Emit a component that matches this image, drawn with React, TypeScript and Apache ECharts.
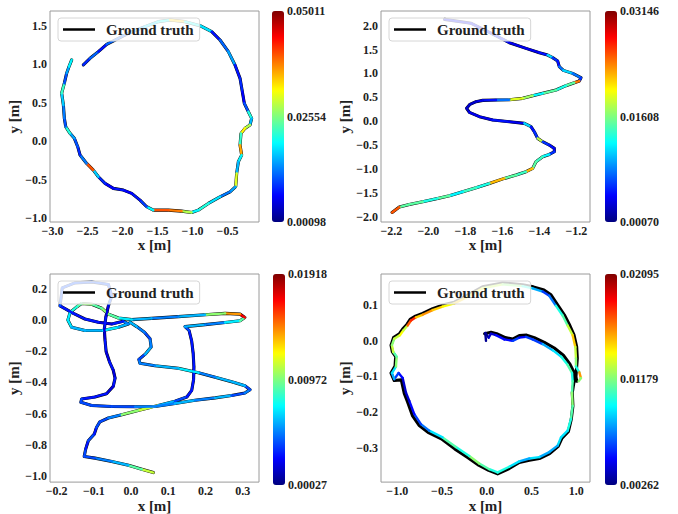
import React, { useEffect, useRef } from 'react';
import * as echarts from 'echarts';

// ---------- Panel 1 (top left) ----------
const est1: [number, number][] = [
  [-2.560, 0.990], [-2.464, 1.076], [-2.345, 1.163], [-2.226, 1.258], [-1.917, 1.401],
  [-1.679, 1.487], [-1.488, 1.552], [-1.321, 1.574], [-1.107, 1.552], [-0.893, 1.500],
  [-0.726, 1.422], [-0.607, 1.314], [-0.488, 1.163], [-0.393, 0.989], [-0.321, 0.816],
  [-0.288, 0.643], [-0.260, 0.492], [-0.202, 0.383], [-0.155, 0.297], [-0.179, 0.210],
  [-0.250, 0.167], [-0.307, 0.102], [-0.321, -0.050], [-0.298, -0.180], [-0.345, -0.266],
  [-0.369, -0.417], [-0.383, -0.590], [-0.464, -0.656], [-0.607, -0.721], [-0.774, -0.807],
  [-0.917, -0.894], [-1.012, -0.924], [-1.155, -0.907], [-1.345, -0.894], [-1.560, -0.894],
  [-1.655, -0.850], [-1.750, -0.764], [-1.869, -0.677], [-1.988, -0.634], [-2.131, -0.612],
  [-2.250, -0.547], [-2.345, -0.461], [-2.417, -0.374], [-2.512, -0.288], [-2.607, -0.179],
  [-2.640, -0.071], [-2.688, 0.038], [-2.750, 0.103], [-2.812, 0.190], [-2.831, 0.298],
  [-2.845, 0.471], [-2.869, 0.623], [-2.831, 0.753], [-2.798, 0.883], [-2.764, 0.969],
  [-2.726, 1.056],
];
const err1: number[] = [
  0.009, 0.012, 0.008, 0.012, 0.015, 0.018, 0.020, 0.034, 0.020, 0.018,
  0.008, 0.012, 0.015, 0.008, 0.009, 0.007, 0.011, 0.021, 0.016, 0.028,
  0.032, 0.022, 0.036, 0.019, 0.016, 0.030, 0.015, 0.013, 0.018, 0.021,
  0.019, 0.028, 0.038, 0.040, 0.019, 0.010, 0.008, 0.007, 0.008, 0.007,
  0.009, 0.017, 0.040, 0.013, 0.009, 0.011, 0.015, 0.021, 0.011, 0.013,
  0.017, 0.022, 0.011, 0.015, 0.019, 0.012,
];
const gt1 = est1;
const xTicks1 = [-3.0, -2.5, -2.0, -1.5, -1.0, -0.5];
const yTicks1 = [-1.0, -0.5, 0.0, 0.5, 1.0, 1.5];
const cbTicks1 = [0.00098, 0.02554, 0.05011];

// ---------- Panel 2 (top right) ----------
const est2: [number, number][] = [
  [-1.912, 2.133], [-1.768, 2.050], [-1.659, 1.840], [-1.562, 1.645], [-1.472, 1.526],
  [-1.400, 1.435], [-1.355, 1.386], [-1.328, 1.331], [-1.301, 1.261], [-1.292, 1.142],
  [-1.270, 1.065], [-1.220, 1.002], [-1.175, 0.911], [-1.184, 0.842], [-1.211, 0.807],
  [-1.256, 0.744], [-1.310, 0.653], [-1.382, 0.584], [-1.436, 0.535], [-1.490, 0.479],
  [-1.562, 0.451], [-1.634, 0.444], [-1.706, 0.437], [-1.742, 0.409], [-1.775, 0.353],
  [-1.793, 0.270], [-1.778, 0.186], [-1.724, 0.095], [-1.652, 0.025], [-1.562, -0.010],
  [-1.481, -0.045], [-1.445, -0.115], [-1.427, -0.220], [-1.409, -0.359], [-1.382, -0.429],
  [-1.346, -0.499], [-1.319, -0.569], [-1.319, -0.639], [-1.346, -0.695], [-1.382, -0.743],
  [-1.418, -0.848], [-1.436, -0.988], [-1.472, -1.057], [-1.526, -1.127], [-1.589, -1.197],
  [-1.670, -1.302], [-1.742, -1.393], [-1.814, -1.477], [-1.886, -1.560], [-1.950, -1.616],
  [-2.031, -1.686], [-2.103, -1.742], [-2.157, -1.798], [-2.196, -1.910],
];
const err2: number[] = [
  0.004, 0.004, 0.005, 0.004, 0.004, 0.005, 0.011, 0.006, 0.005, 0.008,
  0.011, 0.008, 0.006, 0.024, 0.015, 0.013, 0.015, 0.012, 0.017, 0.019,
  0.008, 0.005, 0.004, 0.003, 0.003, 0.003, 0.004, 0.004, 0.005, 0.004,
  0.011, 0.005, 0.006, 0.018, 0.006, 0.005, 0.004, 0.006, 0.012, 0.014,
  0.015, 0.022, 0.014, 0.015, 0.022, 0.013, 0.014, 0.012, 0.015, 0.013,
  0.015, 0.015, 0.025, 0.028,
];
const gt2 = est2;
const xTicks2 = [-2.2, -2.0, -1.8, -1.6, -1.4, -1.2];
const yTicks2 = [-2.0, -1.5, -1.0, -0.5, 0.0, 0.5, 1.0, 1.5, 2.0];
const cbTicks2 = [0.00070, 0.01608, 0.03146];

// ---------- Panel 3 (bottom left) ----------
const est3: [number, number][] = [
  [0.060, -0.979], [0.029, -0.958], [-0.007, -0.932], [-0.052, -0.907], [-0.097, -0.886],
  [-0.126, -0.875], [-0.122, -0.827], [-0.115, -0.774], [-0.099, -0.732], [-0.093, -0.689],
  [-0.084, -0.653], [-0.061, -0.628], [-0.025, -0.607], [0.024, -0.577], [0.073, -0.548],
  [0.118, -0.520], [0.150, -0.493], [0.163, -0.451], [0.168, -0.383], [0.169, -0.299],
  [0.167, -0.214], [0.163, -0.134], [0.156, -0.066], [0.145, -0.041], [0.199, -0.028],
  [0.253, -0.015], [0.293, -0.003], [0.306, 0.018], [0.293, 0.039], [0.253, 0.044],
  [0.199, 0.035], [0.127, 0.023], [0.055, 0.012], [0.002, 0.004], [-0.034, 0.014],
  [-0.061, 0.039], [-0.079, 0.077], [-0.106, 0.103], [-0.133, 0.107], [-0.146, 0.086],
  [-0.164, 0.050], [-0.170, 0.001], [-0.160, -0.045], [-0.124, -0.066], [-0.075, -0.066],
  [-0.034, -0.045], [-0.007, -0.024], [-0.021, -0.007], [-0.052, -0.024], [-0.088, -0.013],
  [-0.124, 0.008], [-0.155, 0.044], [-0.191, 0.092], [-0.185, 0.208], [-0.151, 0.240],
  [-0.106, 0.246], [-0.061, 0.230], [-0.052, 0.156], [-0.061, 0.092], [-0.068, 0.018],
  [-0.072, -0.056], [-0.070, -0.130], [-0.067, -0.203], [-0.058, -0.267], [-0.048, -0.320],
  [-0.043, -0.372], [-0.048, -0.425], [-0.066, -0.472], [-0.097, -0.493], [-0.133, -0.506],
  [-0.135, -0.527], [-0.106, -0.548], [-0.052, -0.554], [0.011, -0.556], [0.064, -0.554],
  [0.118, -0.535], [0.172, -0.514], [0.226, -0.499], [0.270, -0.484], [0.306, -0.468],
  [0.320, -0.446], [0.306, -0.421], [0.275, -0.398], [0.226, -0.366], [0.181, -0.337],
  [0.127, -0.309], [0.064, -0.292], [0.024, -0.277], [0.021, -0.252], [0.038, -0.218],
  [0.054, -0.172], [0.051, -0.119], [0.036, -0.077], [0.015, -0.041], [-0.003, -0.013],
];
const err3: number[] = [
  0.011, 0.009, 0.006, 0.005, 0.004, 0.004, 0.003, 0.004, 0.003, 0.004,
  0.004, 0.005, 0.010, 0.011, 0.006, 0.004, 0.003, 0.003, 0.003, 0.003,
  0.003, 0.003, 0.004, 0.006, 0.005, 0.007, 0.009, 0.017, 0.014, 0.010,
  0.006, 0.005, 0.006, 0.007, 0.009, 0.010, 0.009, 0.010, 0.009, 0.008,
  0.007, 0.007, 0.006, 0.006, 0.007, 0.006, 0.005, 0.003, 0.002, 0.003,
  0.003, 0.003, 0.004, 0.004, 0.004, 0.004, 0.004, 0.004, 0.002, 0.003,
  0.002, 0.003, 0.002, 0.003, 0.002, 0.003, 0.002, 0.003, 0.003, 0.004,
  0.004, 0.004, 0.004, 0.005, 0.005, 0.006, 0.005, 0.006, 0.004, 0.005,
  0.004, 0.006, 0.006, 0.005, 0.007, 0.006, 0.005, 0.005, 0.004, 0.006,
  0.005, 0.004, 0.005, 0.006, 0.004,
];
const gt3 = est3;
const xTicks3 = [-0.2, -0.1, 0.0, 0.1, 0.2, 0.3];
const yTicks3 = [-1.0, -0.8, -0.6, -0.4, -0.2, 0.0, 0.2];
const cbTicks3 = [0.00027, 0.00972, 0.01918];

// ---------- Panel 4 (bottom right) ----------
const est4: [number, number][] = [
  [-0.009, -0.001], [-0.017, 0.021], [0.021, 0.008], [0.047, 0.019], [0.102, 0.015],
  [0.196, 0.003], [0.289, -0.001], [0.363, 0.008], [0.438, 0.010], [0.512, 0.003],
  [0.624, -0.010], [0.736, -0.027], [0.829, -0.045], [0.903, -0.068], [0.952, -0.091],
  [0.959, -0.114], [0.952, -0.146], [0.959, -0.183], [0.940, -0.220], [0.903, -0.252],
  [0.829, -0.271], [0.791, -0.294], [0.698, -0.312], [0.587, -0.326], [0.475, -0.330],
  [0.363, -0.338], [0.251, -0.353], [0.121, -0.369], [0.028, -0.360], [-0.084, -0.344],
  [-0.196, -0.323], [-0.345, -0.298], [-0.494, -0.271], [-0.643, -0.252], [-0.736, -0.234],
  [-0.810, -0.206], [-0.866, -0.169], [-0.903, -0.146], [-0.940, -0.105], [-0.985, -0.091],
  [-1.034, -0.108], [-1.060, -0.091], [-1.015, -0.073], [-1.007, -0.045], [-1.045, -0.032],
  [-1.060, -0.013], [-1.034, 0.005], [-0.970, 0.015], [-0.933, 0.028], [-0.885, 0.042],
  [-0.847, 0.056], [-0.791, 0.065], [-0.717, 0.072], [-0.605, 0.085], [-0.494, 0.095],
  [-0.363, 0.104], [-0.233, 0.120], [-0.047, 0.146], [0.177, 0.157], [0.400, 0.152],
  [0.512, 0.146], [0.624, 0.137], [0.698, 0.125], [0.773, 0.097], [0.847, 0.070],
  [0.903, 0.042], [0.959, 0.015], [0.989, -0.018], [0.996, -0.050], [0.996, -0.073],
  [1.034, -0.089], [1.052, -0.105], [1.026, -0.114],
];
const err4: number[] = [
  0.003, 0.003, 0.004, 0.004, 0.005, 0.005, 0.006, 0.005, 0.006, 0.006,
  0.008, 0.009, 0.010, 0.011, 0.010, 0.011, 0.012, 0.011, 0.010, 0.009,
  0.009, 0.008, 0.008, 0.009, 0.008, 0.009, 0.010, 0.010, 0.011, 0.012,
  0.010, 0.011, 0.009, 0.007, 0.006, 0.005, 0.004, 0.004, 0.005, 0.006,
  0.008, 0.009, 0.012, 0.011, 0.013, 0.012, 0.013, 0.014, 0.013, 0.017,
  0.018, 0.015, 0.016, 0.015, 0.014, 0.015, 0.014, 0.013, 0.012, 0.010,
  0.008, 0.006, 0.007, 0.010, 0.011, 0.013, 0.015, 0.013, 0.012, 0.010,
  0.016, 0.012, 0.010,
];
const gt4: [number, number][] = [
  [-0.024, 0.019], [0.047, 0.023], [0.110, 0.019], [0.207, 0.008], [0.289, 0.004],
  [0.363, 0.014], [0.445, 0.015], [0.531, 0.008], [0.643, -0.005], [0.754, -0.021],
  [0.855, -0.041], [0.929, -0.066], [0.981, -0.093], [0.975, -0.114], [0.955, -0.146],
  [0.962, -0.183], [0.944, -0.220], [0.912, -0.254], [0.840, -0.273], [0.798, -0.296],
  [0.702, -0.316], [0.587, -0.330], [0.475, -0.335], [0.363, -0.341], [0.251, -0.358],
  [0.121, -0.373], [0.021, -0.363], [-0.102, -0.347], [-0.214, -0.327], [-0.359, -0.303],
  [-0.508, -0.275], [-0.657, -0.257], [-0.754, -0.238], [-0.829, -0.211], [-0.885, -0.172],
  [-0.922, -0.148], [-0.955, -0.110], [-1.034, -0.112], [-1.070, -0.091], [-1.025, -0.071],
  [-1.018, -0.045], [-1.055, -0.032], [-1.070, -0.013], [-1.042, 0.008], [-0.976, 0.019],
  [-0.940, 0.032], [-0.893, 0.045], [-0.856, 0.059], [-0.797, 0.068], [-0.717, 0.076],
  [-0.605, 0.089], [-0.494, 0.099], [-0.363, 0.107], [-0.233, 0.124], [-0.047, 0.150],
  [0.177, 0.161], [0.400, 0.156], [0.520, 0.150], [0.639, 0.141], [0.717, 0.128],
  [0.791, 0.100], [0.866, 0.072], [0.922, 0.045], [0.974, 0.016], [1.004, -0.018],
  [1.011, -0.050], [1.004, -0.073], [0.996, -0.101], [1.004, -0.114],
];
const xTicks4 = [-1.0, -0.5, 0.0, 0.5, 1.0];
const yTicks4 = [-0.3, -0.2, -0.1, 0.0, 0.1];
const cbTicks4 = [0.00262, 0.01179, 0.02095];

const JET = ['#00007f', '#0000ff', '#007fff', '#00ffff', '#7fff7f', '#ffff00', '#ff7f00', '#ff0000', '#7f0000'];
const FONT = '"Times New Roman", "Liberation Serif", "DejaVu Serif", serif';
const TXT = '#222222';

const panels = [
  { est: est1, err: err1, gt: gt1, xr: [-3.036, -0.05], yr: [-1.048, 1.69], xt: xTicks1, yt: yTicks1, cb: cbTicks1,
    left: 50, top: 11, cbLeft: 272, legLeft: 58, legTop: 18, yGap: 25 },
  { est: est2, err: err2, gt: gt2, xr: [-2.256, -1.126], yr: [-2.11, 2.308], xt: xTicks2, yt: yTicks2, cb: cbTicks2,
    left: 381, top: 11, cbLeft: 605, legLeft: 389, legTop: 18, yGap: 23 },
  { est: est3, err: err3, gt: gt3, xr: [-0.218, 0.344], yr: [-1.04, 0.297], xt: xTicks3, yt: yTicks3, cb: cbTicks3,
    left: 50, top: 274, cbLeft: 273, legLeft: 58, legTop: 281, yGap: 26 },
  { est: est4, err: err4, gt: gt4, xr: [-1.182, 1.153], yr: [-0.396, 0.186], xt: xTicks4, yt: yTicks4, cb: cbTicks4,
    left: 381, top: 274, cbLeft: 605, legLeft: 389, legTop: 281, yGap: 22 },
];

const segments = (pts: [number, number][], err: number[]) =>
  pts.slice(0, -1).map((p, i) => [p[0], p[1], pts[i + 1][0], pts[i + 1][1], err[i]]);

const fmt1 = (v: number) => {
  const s = Math.abs(v).toFixed(1);
  return (v < -1e-9 ? '\u2212' : '') + s;
};

const labelStyle = { fontSize: 12, fontWeight: 'bold', fontFamily: FONT, color: TXT };
const nameStyle = { fontSize: 15, fontWeight: 'bold', fontFamily: FONT, color: TXT };

function buildOption() {
  const grid: any[] = [];
  const xAxis: any[] = [];
  const yAxis: any[] = [];
  const series: any[] = [];
  const visualMap: any[] = [];
  const legend: any[] = [];

  panels.forEach((p, i) => {
    grid.push({ left: p.left, top: p.top, width: 209, height: 211, show: true, borderColor: '#9a9a9a', borderWidth: 1, backgroundColor: '#fff' });
    xAxis.push({
      gridIndex: i, type: 'value', min: p.xr[0], max: p.xr[1],
      axisLine: { show: false }, axisTick: { show: false }, splitLine: { show: false },
      axisLabel: { customValues: p.xt, formatter: fmt1, margin: 3, ...labelStyle },
      name: 'x [m]', nameLocation: 'middle', nameGap: 12, nameTextStyle: nameStyle,
    });
    yAxis.push({
      gridIndex: i, type: 'value', min: p.yr[0], max: p.yr[1],
      axisLine: { show: false }, axisTick: { show: false }, splitLine: { show: false },
      axisLabel: { customValues: p.yt, formatter: fmt1, margin: 3, ...labelStyle },
      name: 'y [m]', nameLocation: 'middle', nameGap: p.yGap, nameTextStyle: nameStyle,
    });
    series.push({
      type: 'line', name: 'Ground truth', xAxisIndex: i, yAxisIndex: i, data: p.gt,
      showSymbol: false, symbol: 'none', silent: true, animation: false,
      lineStyle: { color: '#000', width: 3.1, cap: 'round', join: 'round' }, itemStyle: { color: '#000' }, z: 2,
    });
    series.push({
      type: 'custom', name: 'Estimate ' + (i + 1), xAxisIndex: i, yAxisIndex: i,
      data: segments(p.est, p.err), silent: true, z: 3,
      renderItem: (_params: any, api: any) => {
        const a = api.coord([api.value(0), api.value(1)]);
        const b = api.coord([api.value(2), api.value(3)]);
        return {
          type: 'line',
          shape: { x1: a[0], y1: a[1], x2: b[0], y2: b[1] },
          style: { stroke: api.visual('color'), lineWidth: 2.4, lineCap: 'round' },
        };
      },
    });
    visualMap.push({
      type: 'continuous', seriesIndex: 2 * i + 1, dimension: 4, min: p.cb[0], max: p.cb[2],
      inRange: { color: JET }, show: true, calculable: false, hoverLink: false,
      left: p.cbLeft, top: p.top, itemWidth: 12, itemHeight: 211, padding: 0, text: null,
    });
    legend.push({
      data: ['Ground truth'], left: p.legLeft, top: p.legTop, selectedMode: false,
      icon: 'rect', itemWidth: 32, itemHeight: 2.5, padding: [4, 6, 4, 5],
      backgroundColor: 'rgba(255,255,255,0.8)', borderColor: '#d6d6d6', borderWidth: 1, borderRadius: 3,
      textStyle: { fontSize: 15, fontWeight: 'bold', fontFamily: FONT, color: TXT, padding: [0, 0, 0, 6] },
    });
  });

  // colorbar tick axes
  panels.forEach((p, i) => {
    const gi = 4 + i;
    grid.push({ left: p.cbLeft, top: p.top, width: 12, height: 211, show: false });
    xAxis.push({ gridIndex: gi, type: 'value', show: false, min: 0, max: 1 });
    yAxis.push({
      gridIndex: gi, type: 'value', position: 'right', min: p.cb[0], max: p.cb[2],
      axisLine: { show: false }, axisTick: { show: false }, splitLine: { show: false },
      axisLabel: { customValues: p.cb, formatter: (v: number) => v.toFixed(5), margin: 3, ...labelStyle },
    });
  });

  return {
    animation: false,
    backgroundColor: '#ffffff',
    textStyle: { fontFamily: FONT },
    grid, xAxis, yAxis, series, visualMap, legend,
  };
}

export default function App() {
  const ref = useRef<HTMLDivElement>(null);
  useEffect(() => {
    if (!ref.current) return;
    const chart = echarts.init(ref.current, undefined, { renderer: 'svg' });
    chart.setOption(buildOption() as any);
    return () => chart.dispose();
  }, []);
  return (
    <div
      ref={ref}
      style={{ position: 'fixed', left: 0, top: 0, width: 678, height: 514, background: '#fff' }}
    />
  );
}
